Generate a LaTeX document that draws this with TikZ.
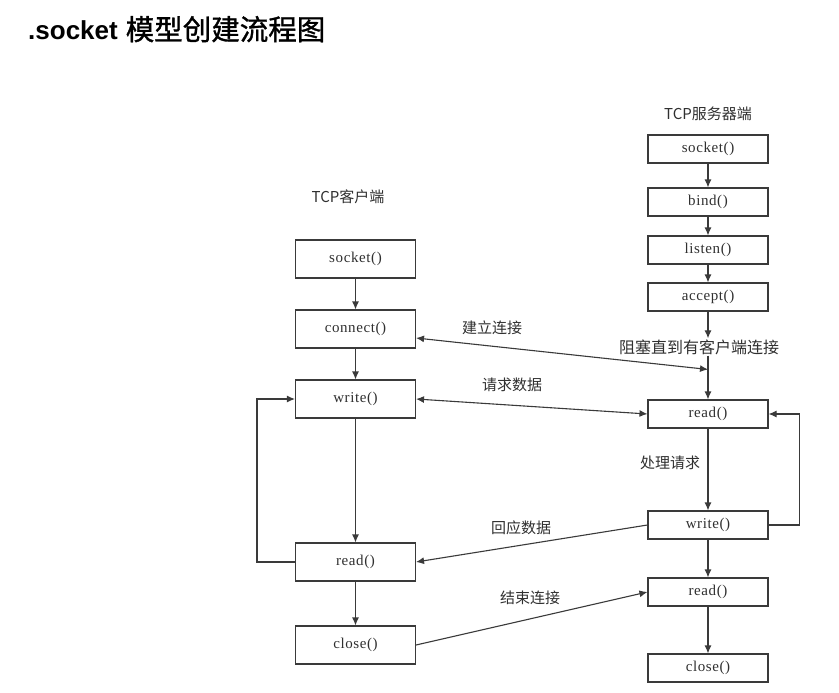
\documentclass[tikz,border=0pt]{standalone}
\usepackage{fontspec}
\setmainfont{Liberation Serif}
\newfontfamily\boxfont[LetterSpace=4]{Liberation Serif}
\newfontfamily\cjk{Noto Sans CJK SC}
\newfontfamily\cjktitle[FakeBold=1.2]{Noto Sans CJK SC}
\newfontfamily\titlesans{Liberation Sans}
\usetikzlibrary{arrows.meta,calc}
\definecolor{linegray}{HTML}{3A3A3A}
\definecolor{textgray}{HTML}{303030}
\tikzset{
  box/.style={draw=linegray, line width=1.1pt, minimum width=120pt, inner sep=0pt,
    text=textgray, font=\boxfont\fontsize{15}{15}\selectfont},
  cbox/.style={box, minimum height=38pt},
  sbox/.style={box, minimum height=28pt},
  lbl/.style={text=textgray, font=\cjk\fontsize{15}{15}\selectfont, inner sep=1pt},
  conn/.style={draw=linegray, line width=1.1pt, -{Latex[length=8pt,width=7pt]}},
  dconn/.style={draw=linegray, line width=1.1pt, {Latex[length=8pt,width=7pt]}-{Latex[length=8pt,width=7pt]}},
}
\begin{document}
\begin{tikzpicture}[x=1pt,y=-1pt]
\useasboundingbox[fill=white] (0,0) rectangle (839,693);
% title
\node[anchor=base west, inner sep=0pt, text=black] (title) at (28,40)
  {{\titlesans\bfseries\fontsize{26}{26}\selectfont .socket}\hspace{8pt}{\cjktitle\fontsize{28.5}{28.5}\selectfont 模型创建流程图}};
% client
\node[lbl] (chead) at (348,197) {TCP客户端};
\node[cbox] (c1) at (355.5,259) {socket()};
\node[cbox] (c2) at (355.5,329) {connect()};
\node[cbox] (c3) at (355.5,399) {write()};
\node[cbox] (c4) at (355.5,562) {read()};
\node[cbox] (c5) at (355.5,645) {close()};
% server
\node[lbl] (shead) at (708,114) {TCP服务器端};
\node[sbox] (s1) at (708,149) {socket()};
\node[sbox] (s2) at (708,202) {bind()};
\node[sbox] (s3) at (708,250) {listen()};
\node[sbox] (s4) at (708,297) {accept()};
\node[lbl, font=\cjk\fontsize{16}{16}\selectfont] (blk) at (699,347) {阻塞直到有客户端连接};
\node[sbox] (s5) at (708,414) {read()};
\node[lbl] (proc) at (670,463) {处理请求};
\node[sbox] (s6) at (708,525) {write()};
\node[sbox] (s7) at (708,592) {read()};
\node[sbox] (s8) at (708,668) {close()};
% arrow labels
\node[lbl] (l1) at (492,328) {建立连接};
\node[lbl] (l2) at (512,385) {请求数据};
\node[lbl] (l3) at (521,528) {回应数据};
\node[lbl] (l4) at (530,598) {结束连接};
% client flow
\draw[conn] (c1) -- (c2);
\draw[conn] (c2) -- (c3);
\draw[conn] (c3) -- (c4);
\draw[conn] (c4) -- (c5);
\draw[conn] (c4.west) -- ++(-38,0) |- (c3.west);
% server flow
\draw[conn] (s1) -- (s2);
\draw[conn] (s2) -- (s3);
\draw[conn] (s3) -- (s4);
\draw[conn] (s4.south) -- (s4.south |- blk.north);
\coordinate (blkout) at (s5.north |- blk.south);
\draw[conn] (blkout) -- (s5.north);
\draw[conn] (s5) -- (s6);
\draw[conn] (s6) -- (s7);
\draw[conn] (s7) -- (s8);
\draw[conn] (s6.east) -- ++(31,0) |- (s5.east);
% cross connections
\coordinate (cj) at ($(s5.north)+(0,-30)$);
\draw[dconn] ([yshift=-9pt]c2.east) -- (cj);
\draw[dconn] (c3.east) -- (s5.west);
\draw[conn] (s6.west) -- (c4.east);
\draw[conn] (c5.east) -- (s7.west);
\end{tikzpicture}
\end{document}
